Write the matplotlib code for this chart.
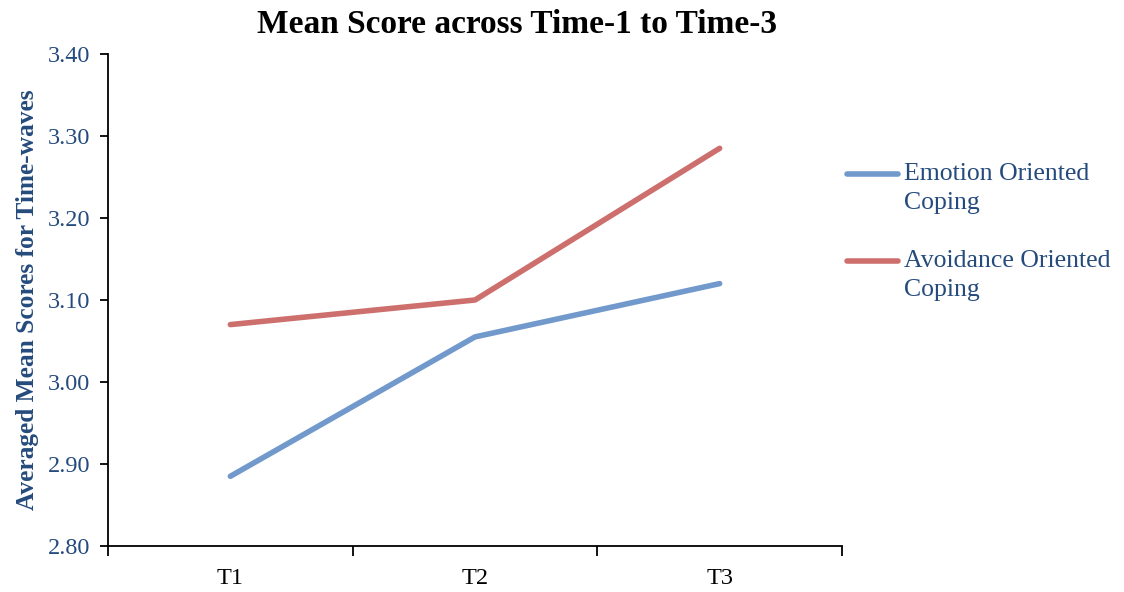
import matplotlib.pyplot as plt
from matplotlib.lines import Line2D

# Mean scores per time-wave
times = ["T1", "T2", "T3"]
emotion = [2.885, 3.055, 3.12]
avoidance = [3.07, 3.10, 3.285]
series_names = [["Emotion Oriented", "Coping"], ["Avoidance Oriented", "Coping"]]
y_ticks = [2.80, 2.90, 3.00, 3.10, 3.20, 3.30, 3.40]

text_blue = "#254b7d"
blue = "#7199cb"
red = "#cc6f6d"

plt.rcParams["font.family"] = ["Liberation Serif", "DejaVu Serif"]

W, H = 1124, 592
fig = plt.figure(figsize=(W / 100, H / 100), dpi=100)
ax = fig.add_axes([108 / W, 46 / H, 734 / W, 492 / H])

x = range(len(times))
ax.plot(x, emotion, color=blue, linewidth=4, solid_capstyle="round")
ax.plot(x, avoidance, color=red, linewidth=4, solid_capstyle="round")

ax.set_xlim(-0.5, len(times) - 0.5)
ax.set_ylim(2.80, 3.40)
ax.set_yticks(y_ticks)
ax.set_yticklabels([f"{v:.2f}" for v in y_ticks], color=text_blue, fontsize=17.5)

# categories between boundary ticks
ax.set_xticks([i - 0.5 for i in range(len(times) + 1)])
ax.set_xticklabels([])
ax.set_xticks(list(x), minor=True)
ax.set_xticklabels(times, minor=True, fontsize=17.5, color="black")
ax.tick_params(axis="x", which="major", length=7, width=1.3, direction="out")
ax.tick_params(axis="x", which="minor", length=0, pad=16)
ax.tick_params(axis="y", length=6, width=1.3, direction="out", pad=7)

for side in ["top", "right"]:
    ax.spines[side].set_visible(False)
for side in ["left", "bottom"]:
    ax.spines[side].set_linewidth(1.3)

ax.set_title("Mean Score across Time-1 to Time-3", fontsize=24,
             fontweight="bold", pad=15, x=0.557)
ax.set_ylabel("Averaged Mean Scores for Time-waves", fontsize=18.3,
              fontweight="bold", color=text_blue, labelpad=6)

# legend drawn beside the plot, line aligned with first text row
for color, lines, ly in [(blue, series_names[0], 174), (red, series_names[1], 261)]:
    fig.add_artist(Line2D([847 / W, 898 / W], [1 - ly / H, 1 - ly / H],
                          color=color, linewidth=4, solid_capstyle="round"))
    for k, line in enumerate(lines):
        fig.text(904 / W, 1 - (ly + 29 * k) / H, line, fontsize=18.5,
                 color=text_blue, va="center", ha="left")

fig.savefig("out.png", dpi=100)
